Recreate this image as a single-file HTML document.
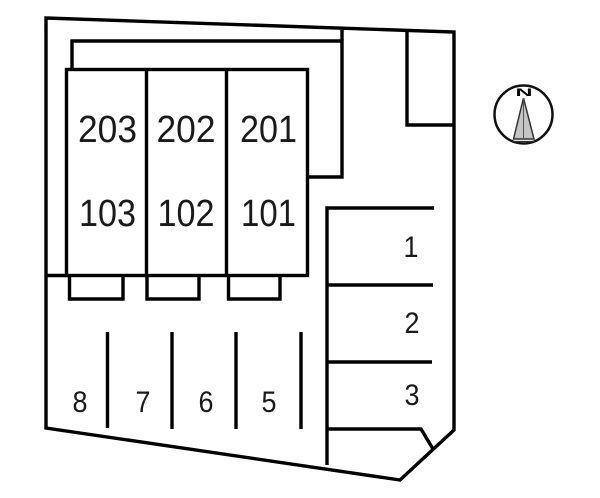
<!DOCTYPE html>
<html>
<head>
<meta charset="utf-8">
<style>
html,body{margin:0;padding:0;background:#fff;}
svg{display:block;}
text{font-family:"Liberation Sans",sans-serif;fill:#1a1a1a;text-anchor:middle;}
</style>
</head>
<body>
<svg width="600" height="498" viewBox="0 0 600 498" xmlns="http://www.w3.org/2000/svg">
<g fill="none" stroke="#000" stroke-width="3.4" stroke-linejoin="miter">
<path d="M46 18L454 32V430L400 480L46 428Z"/>
<path d="M72 69V41H342V177H308"/>
<path d="M342 30V41"/>
<rect x="66.500" y="69.500" width="241" height="206"/>
<path d="M146.500 69V275M226.500 69V275"/>
<path d="M46 275.500H66"/>
<path d="M69.500 275V299H123V275M147 275V299H199V275M228.500 275V299H280V275"/>
<path d="M407 32V125H454"/>
<path d="M327 465V208H434M327 285H433M327 362H432M327 429H421L433 449"/>
<path d="M107.500 332V428M172 332V429M236 332V429M301 332V429"/>
</g>
<g font-size="38">
<text x="107.500" y="142" textLength="59" lengthAdjust="spacingAndGlyphs">203</text>
<text x="186" y="142" textLength="59" lengthAdjust="spacingAndGlyphs">202</text>
<text x="268.500" y="142" textLength="57" lengthAdjust="spacingAndGlyphs">201</text>
<text x="107.500" y="226" textLength="57" lengthAdjust="spacingAndGlyphs">103</text>
<text x="186" y="226" textLength="57" lengthAdjust="spacingAndGlyphs">102</text>
<text x="268.500" y="226" textLength="55" lengthAdjust="spacingAndGlyphs">101</text>
</g>
<g font-size="30">
<text x="411" y="257" textLength="15" lengthAdjust="spacingAndGlyphs">1</text>
<text x="412" y="333" textLength="15" lengthAdjust="spacingAndGlyphs">2</text>
<text x="412" y="405" textLength="15" lengthAdjust="spacingAndGlyphs">3</text>
<text x="80" y="412" textLength="15" lengthAdjust="spacingAndGlyphs">8</text>
<text x="143" y="412" textLength="15" lengthAdjust="spacingAndGlyphs">7</text>
<text x="206" y="412" textLength="15" lengthAdjust="spacingAndGlyphs">6</text>
<text x="269" y="412" textLength="15" lengthAdjust="spacingAndGlyphs">5</text>
</g>
<circle cx="523.500" cy="114.500" r="29" fill="none" stroke="#111" stroke-width="2.500"/>
<path d="M523.500 98L513.500 139H534Z" fill="#c4c4c4" stroke="#333" stroke-width="1.500"/>
<path d="M523.500 98V139" stroke="#555" stroke-width="1"/>
<path d="M513 141.500H535" stroke="#333" stroke-width="1.200"/>
<text x="524" y="96" font-size="11" font-weight="bold" textLength="17" lengthAdjust="spacingAndGlyphs" style="fill:#000">N</text>
</svg>
</body>
</html>
